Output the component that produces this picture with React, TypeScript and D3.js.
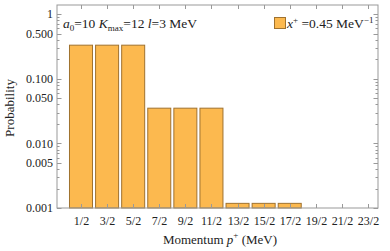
import React from "react";
import * as d3 from "d3";

const categories = ["1/2","3/2","5/2","7/2","9/2","11/2","13/2","15/2","17/2","19/2","21/2","23/2"];
const probabilities = [0.33, 0.33, 0.33, 0.035, 0.035, 0.035, 0.00118, 0.00118, 0.00118, 0, 0, 0];
const yMajorTicks = [1, 0.5, 0.1, 0.05, 0.01, 0.005, 0.001];
const yMajorLabels = ["1", "0.500", "0.100", "0.050", "0.010", "0.005", "0.001"];

const W = 390, H = 251;
const left = 57, right = 378, top = 5, bottom = 208;
const font = "'Liberation Serif', 'Times New Roman', serif";
const frameColor = "#999999";
const barFill = "#fcb94f";
const barStroke = "#a0722f";

export default function App() {
  const x = d3.scaleBand<string>().domain(categories).range([67.95, 381.05]).paddingInner(0.118).paddingOuter(0.059);
  const y = d3.scaleLog().domain([0.001, 1.38]).range([bottom, top]);

  const minor: number[] = [];
  for (const dec of [0.001, 0.01, 0.1, 1]) {
    for (let k = 1; k <= 9; k++) {
      const v = dec * k;
      if (v >= 0.001 && v <= 1.38) minor.push(v);
    }
  }
  const isMajor = (v: number) => yMajorTicks.some(t => Math.abs(t - v) / t < 1e-6);

  return (
    <svg width={W} height={H} style={{ position: "absolute", left: 0, top: 0 }}>
      <rect x={0} y={0} width={W} height={H} fill="white" />
      {categories.map((c, i) => {
        const v = probabilities[i];
        if (!(v > 0.001)) return null;
        const bx = x(c)!;
        return (
          <rect key={c} x={bx} y={y(v)} width={x.bandwidth()} height={bottom - y(v)}
            fill={barFill} stroke={barStroke} strokeWidth={1} />
        );
      })}
      {/* frame */}
      <rect x={left} y={top} width={right - left} height={bottom - top} fill="none" stroke={frameColor} strokeWidth={1} />
      {/* y ticks */}
      {minor.map((v, i) => {
        const yy = Math.round(y(v)) + 0.5;
        const len = isMajor(v) ? 4.5 : 2.5;
        return (
          <g key={i}>
            <line x1={left} x2={left + len} y1={yy} y2={yy} stroke={frameColor} />
            <line x1={right} x2={right - len} y1={yy} y2={yy} stroke={frameColor} />
          </g>
        );
      })}
      {yMajorTicks.map((v, i) => (
        <text key={v} x={left - 4} y={y(v)} dy="0.35em" textAnchor="end" fontFamily={font} fontSize={12} fill="#222">
          {yMajorLabels[i]}
        </text>
      ))}
      {/* x ticks */}
      {categories.map(c => {
        const cx = Math.round(x(c)! + x.bandwidth() / 2) + 0.5;
        return (
          <g key={c}>
            <line x1={cx} x2={cx} y1={bottom} y2={bottom - 4} stroke={frameColor} />
            <line x1={cx} x2={cx} y1={top} y2={top + 4} stroke={frameColor} />
            <text x={cx} y={225} textAnchor="middle" fontFamily={font} fontSize={12} fill="#222">{c}</text>
          </g>
        );
      })}
      {/* axis labels */}
      <text x={220} y={244} textAnchor="middle" fontFamily={font} fontSize={13} fill="#222">
        Momentum <tspan fontStyle="italic">p</tspan><tspan dy={-6} fontSize={9}>+</tspan><tspan dy={6}> (MeV)</tspan>
      </text>
      <text transform={`translate(14,108) rotate(-90)`} textAnchor="middle" fontFamily={font} fontSize={13} fill="#222">
        Probability
      </text>
      {/* annotation */}
      <text x={63} y={28} fontFamily={font} fontSize={13.5} fill="#222">
        <tspan fontStyle="italic">a</tspan><tspan dy={3} fontSize={9}>0</tspan><tspan dy={-3}>=10 </tspan>
        <tspan fontStyle="italic">K</tspan><tspan dy={3} fontSize={9}>max</tspan><tspan dy={-3}>=12 </tspan>
        <tspan fontStyle="italic">l</tspan><tspan>=3 MeV</tspan>
      </text>
      {/* legend */}
      <rect x={274.5} y={17.5} width={11} height={11} fill={barFill} stroke={barStroke} />
      <text x={287} y={28} fontFamily={font} fontSize={13.5} fill="#222">
        <tspan fontStyle="italic">x</tspan><tspan dy={-5} fontSize={9}>+</tspan><tspan dy={5}> =0.45 MeV</tspan><tspan dy={-5} fontSize={9}>−1</tspan>
      </text>
    </svg>
  );
}
